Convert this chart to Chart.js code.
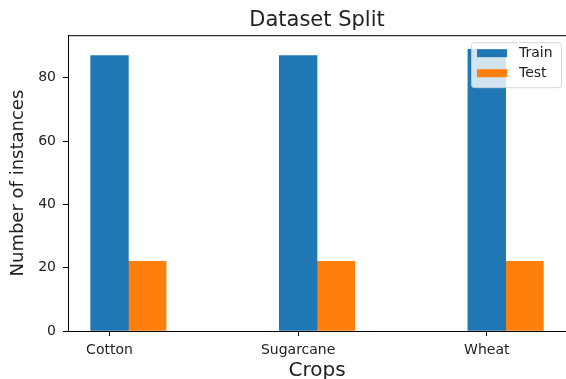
<!DOCTYPE html>
<html>
<head>
<meta charset="utf-8">
<script src="https://cdn.jsdelivr.net/npm/chart.js@4/dist/chart.umd.min.js"></script>
<style>
  html, body { margin: 0; padding: 0; background: #ffffff; }
  #wrap { width: 566px; height: 379px; }
</style>
</head>
<body>
<div id="wrap"><canvas id="c" width="566" height="379"></canvas></div>
<script>
const categories = ['Cotton', 'Sugarcane', 'Wheat'];
const trainValues = [87, 87, 89];
const testValues = [22, 22, 22];
const yTicks = [0, 20, 40, 60, 80];
const seriesNames = ['Train', 'Test'];

const FONT = "'DejaVu Sans', sans-serif";
const BLUE = '#1f77b4';
const ORANGE = '#ff7f0e';

const trainData = categories.map((c, i) => ({ x: i, y: trainValues[i] }));
const testData = categories.map((c, i) => ({ x: i + 0.2, y: testValues[i] }));
const yMax = Math.max(...trainValues, ...testValues) * 1.05;

const frameAndLegend = {
  id: 'frameAndLegend',
  afterDatasetsDraw(chart) {
    const ctx = chart.ctx;
    const a = chart.chartArea;
    ctx.save();
    ctx.strokeStyle = '#000';
    ctx.lineWidth = 1;
    ctx.beginPath();
    ctx.moveTo(a.left, a.top + 0.5);
    ctx.lineTo(a.right + 2, a.top + 0.5);
    ctx.stroke();
    // legend
    const lx = a.right - 95, ly = a.top + 7, lw = 90, lh = 45;
    ctx.fillStyle = 'rgba(255,255,255,0.8)';
    ctx.strokeStyle = 'rgba(204,204,204,0.8)';
    ctx.beginPath();
    ctx.roundRect(lx + 0.5, ly + 0.5, lw, lh, 3);
    ctx.fill();
    ctx.stroke();
    const colors = [BLUE, ORANGE];
    ctx.font = '14px ' + FONT;
    ctx.textBaseline = 'middle';
    ctx.textAlign = 'left';
    seriesNames.forEach((n, i) => {
      const cy = ly + 11 + i * 20;
      ctx.fillStyle = colors[i];
      ctx.fillRect(lx + 6, cy - 4, 30, 8);
      ctx.fillStyle = '#222';
      ctx.fillText(n, lx + 48, cy);
    });
    ctx.restore();
  }
};

new Chart(document.getElementById('c'), {
  type: 'bar',
  data: {
    datasets: [
      { label: seriesNames[0], data: trainData, backgroundColor: BLUE, borderWidth: 0 },
      { label: seriesNames[1], data: testData, backgroundColor: ORANGE, borderWidth: 0 }
    ]
  },
  options: {
    responsive: false,
    animation: false,
    devicePixelRatio: 1,
    layout: { padding: { left: 0, right: 0, top: 0, bottom: 0 } },
    datasets: { bar: { grouped: false, categoryPercentage: 1, barPercentage: 1 } },
    plugins: {
      legend: { display: false },
      tooltip: { enabled: false },
      title: {
        display: true,
        fullSize: false,
        text: 'Dataset Split',
        color: '#222',
        font: { family: FONT, size: 21, weight: 'normal' },
        padding: { top: 8, bottom: 2 }
      }
    },
    scales: {
      x: {
        type: 'linear',
        offset: false,
        min: -0.22,
        max: 2.42,
        afterBuildTicks(scale) { scale.ticks = categories.map((c, i) => ({ value: i })); },
        afterFit(scale) { scale.height = 48; },
        ticks: {
          autoSkip: false,
          maxRotation: 0,
          color: '#222',
          padding: 6,
          font: { family: FONT, size: 14 },
          callback: (v) => categories[v]
        },
        grid: { display: true, offset: false, drawOnChartArea: false, drawTicks: true, tickLength: 5, color: '#000' },
        border: { display: true, color: '#000', width: 1 },
        title: {
          display: true,
          text: 'Crops',
          color: '#222',
          font: { family: FONT, size: 20 },
          padding: { top: 0, bottom: -4 }
        }
      },
      y: {
        type: 'linear',
        min: 0,
        max: yMax,
        afterBuildTicks(scale) { scale.ticks = yTicks.map(v => ({ value: v })); },
        afterFit(scale) { scale.width = 68; },
        ticks: {
          color: '#222',
          padding: 7,
          font: { family: FONT, size: 14 }
        },
        grid: { display: true, drawOnChartArea: false, drawTicks: true, tickLength: 5, color: '#000' },
        border: { display: true, color: '#000', width: 1 },
        title: {
          display: true,
          text: 'Number of instances',
          color: '#222',
          font: { family: FONT, size: 18 },
          padding: { top: 8, bottom: 0 }
        }
      }
    }
  },
  plugins: [frameAndLegend]
});
</script>
</body>
</html>
